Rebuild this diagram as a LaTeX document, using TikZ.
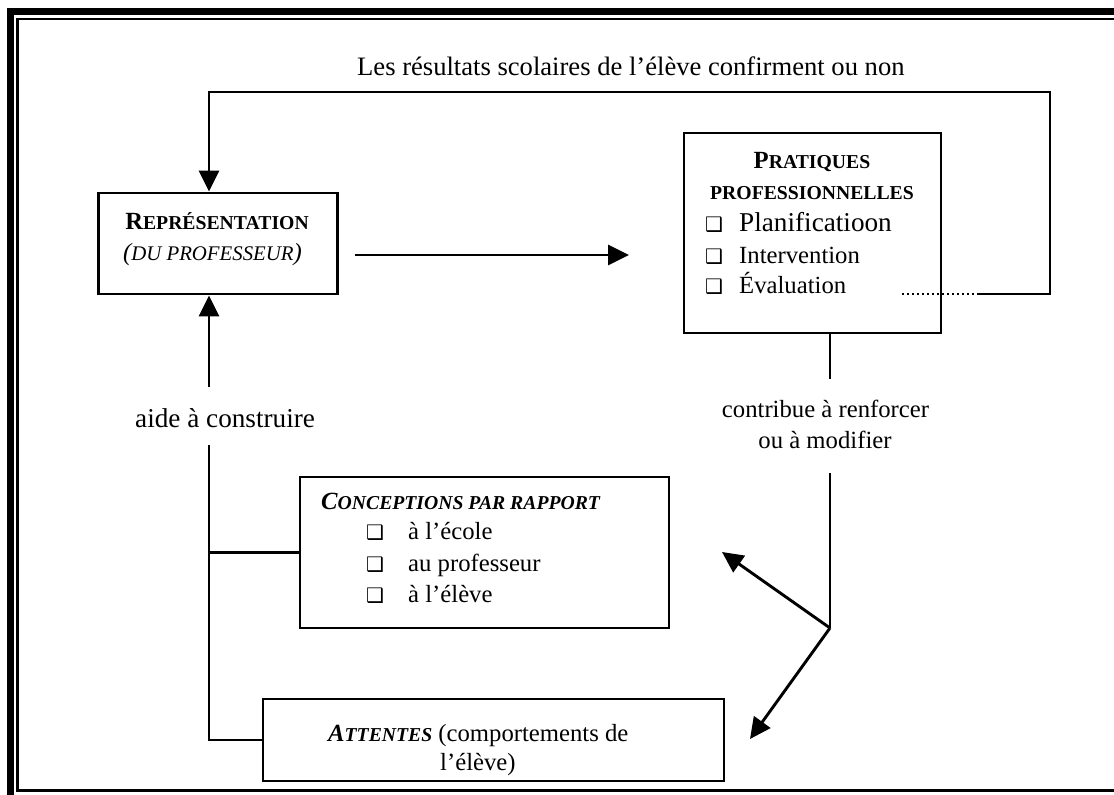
\documentclass[tikz,border=0pt]{standalone}
\usepackage{fontspec}
\setmainfont{Liberation Serif}
\newfontfamily\dingfont{DejaVu Sans}
\usetikzlibrary{positioning,arrows.meta}

% fausses petites capitales et puces
\newcommand{\pc}[2]{{\fontsize{#1}{#1}\selectfont #2}}
\newcommand{\puce}{{\dingfont\fontsize{20}{20}\selectfont ❑}}

\tikzset{
  trait/.style={line width=2.9pt},
  fleche/.style={trait,-{Triangle[length=21pt,width=20pt]}},
  boite/.style={draw,line width=2.9pt,rectangle,inner sep=0pt},
  texte/.style={inner sep=0pt,anchor=base west,font=\fontsize{24.7}{30}\selectfont},
}

\begin{document}
\begin{tikzpicture}[x=1pt,y=-1pt]
\useasboundingbox (0,0) rectangle (1114,795);
% cadre
\draw[line width=7pt] (10,796) -- (10,11.8) -- (1115,11.8);
\draw[line width=2.5pt] (1115,19) -- (17.5,19) -- (17.5,790.5) -- (1115,790.5);

% boites
\node[boite,minimum width=239pt,minimum height=101pt] (rep) at (217.8,243.5) {};
\node[boite,minimum width=257pt,minimum height=200pt] (prat) at (812.5,233) {};
\node[boite,minimum width=369pt,minimum height=151pt] (conc) at (484.5,552.5) {};
\node[boite,minimum width=461pt,minimum height=82pt] (att) at (493.5,740) {};

% textes
\node[texte] (res) at (357,75) {\fontsize{26.6}{30}\selectfont Les résultats scolaires de l’élève confirment ou non};
\node[texte,anchor=base] (repT1) at (217,229) {\bfseries R\pc{19.7}{EPRÉSENTATION}};
\node[texte,anchor=base] (repT2) at (212.5,260) {\itshape(\pc{20.8}{DU PROFESSEUR})};
\node[texte,anchor=base] (pratT1) at (812,168) {\bfseries P\pc{19.7}{RATIQUES}};
\node[texte,anchor=base] (pratT2) at (812,199) {\bfseries\pc{19.7}{PROFESSIONNELLES}};
\foreach[count=\c] \y/\t in {231/{\fontsize{27.2}{30}\selectfont Planificatioon},263/Intervention,293/Évaluation}{
  \node[texte] (puceP\c) at (705,\y) {\puce};
  \node[texte] (itemP\c) at (739,\y) {\t};
}
\node[texte] (aide) at (135,427) {\fontsize{27.2}{30}\selectfont aide à construire};
\node[texte,anchor=base] (contrib1) at (825.5,417) {contribue à renforcer};
\node[texte,anchor=base] (contrib2) at (825,448) {ou à modifier};
\node[texte] (concT) at (321,509) {\bfseries\itshape C\pc{19.7}{ONCEPTIONS PAR RAPPORT}};
\foreach[count=\c] \y/\t in {539/à l’école,571/au professeur,602/à l’élève}{
  \node[texte] (puceC\c) at (366,\y) {\puce};
  \node[texte] (itemC\c) at (408,\y) {\t};
}
\node[texte] (attT1) at (328,741) {{\bfseries\itshape A\pc{19.7}{TTENTES}} (comportements de};
\node[texte] (attT2) at (440,770) {l’élève)};

% points de passage
\coordinate (tronc) at (209,0);
\coordinate (evalA) at (902,294);
\coordinate (evalB) at (977,294);
\coordinate (coinD) at (1050,92);
\coordinate (hA) at (355,255);
\coordinate (hB) at (629,255);
\coordinate (aideH) at (209,387);
\coordinate (aideB) at (209,445);
\coordinate (pratB) at (830,379);
\coordinate (contribH) at (830,473);
\coordinate (split) at (830,628);
\coordinate (tipC) at (722,552);
\coordinate (tipA) at (750,739);

% liens
\draw[trait,dash pattern=on 2pt off 3pt] (evalA) -- (evalB);
\draw[fleche] (evalB) -| (coinD) -| (rep.north -| tronc);
\draw[fleche] (hA) -- (hB);
\draw[fleche] (aideH) -- (rep.south -| tronc);
\draw[trait] (aideB) |- (att.west);
\draw[trait] (conc.west -| tronc) -- (conc.west);
\draw[trait] (prat.south -| split) -- (pratB);
\draw[trait] (contribH) -- (split);
\draw[fleche] (split) -- (tipC);
\draw[fleche] (split) -- (tipA);
\end{tikzpicture}
\end{document}
